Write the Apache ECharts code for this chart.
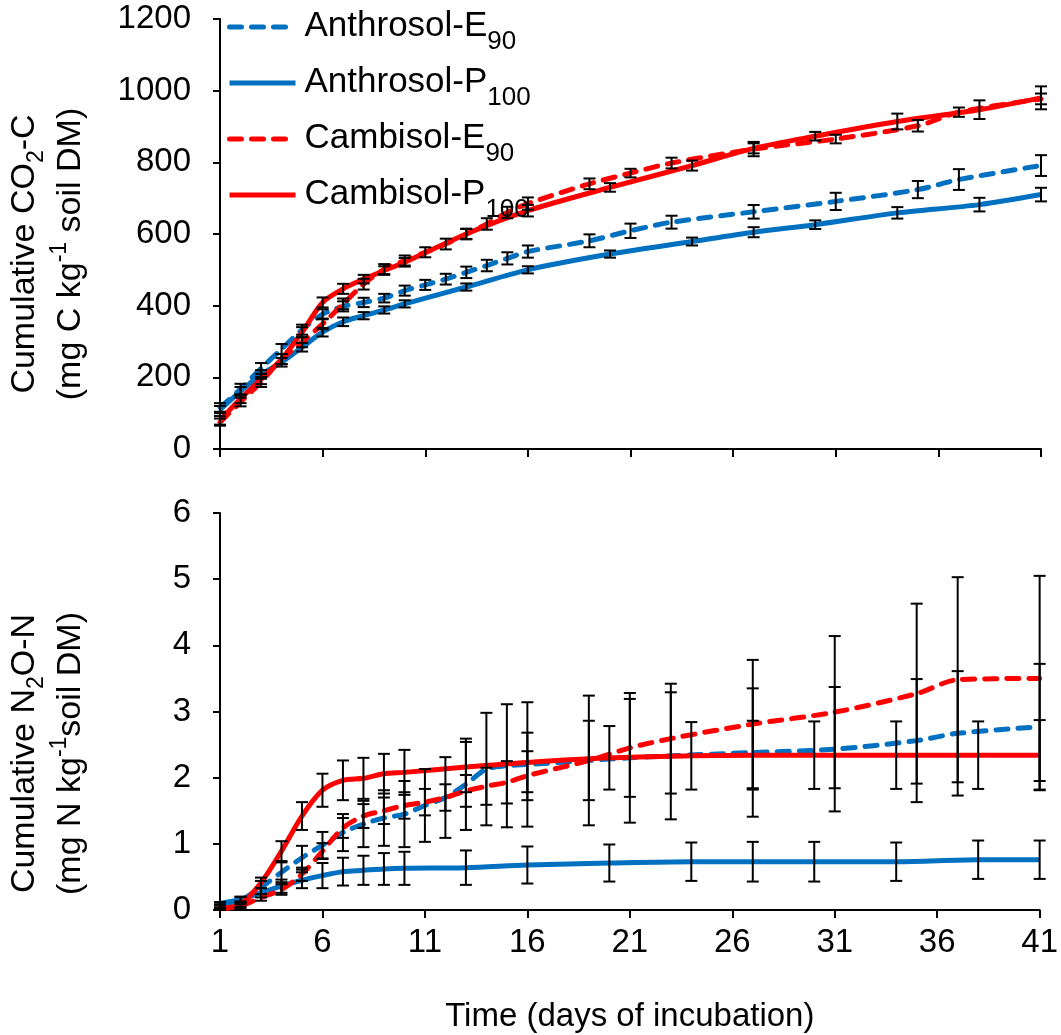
<!DOCTYPE html>
<html>
<head>
<meta charset="utf-8">
<script src="https://cdn.jsdelivr.net/npm/echarts@6/dist/echarts.min.js"></script>
<style>
  html, body { margin: 0; padding: 0; background: #fff; }
  #chart { width: 1061px; height: 1035px; }
</style>
</head>
<body>
<div id="chart"></div>
<script>
// Sampling days (E90 treatments were sampled more often than P100 treatments)
const daysE90  = [1, 2, 3, 4, 5, 6, 7, 8, 9, 10, 11, 12, 13, 14, 15, 16, 19, 21, 23, 27, 31, 35, 37, 41];
const daysP100 = [1, 2, 3, 4, 5, 6, 7, 8, 9, 10, 13, 16, 20, 24, 27, 30, 34, 38, 41];

// Cumulative CO2-C (mg C kg-1 soil DM) and standard errors
const anthE90Co2     = [116, 167, 225, 279, 333, 376, 398, 409, 421, 442, 458, 474, 493, 512, 532, 551, 581, 609, 633, 662, 691, 724, 752, 791];
const anthE90Co2Err  = [12, 15, 15, 14, 14, 14, 14, 13, 12, 14, 14, 15, 16, 16, 17, 17, 18, 20, 18, 19, 24, 24, 29, 29];
const anthP100Co2    = [110, 161, 208, 242, 284, 326, 355, 372, 388, 405, 452, 500, 544, 579, 605, 626, 659, 682, 710];
const anthP100Co2Err = [10, 12, 12, 12, 12, 12, 12, 10, 10, 10, 10, 10, 10, 11, 14, 12, 16, 19, 19];
const cambE90Co2     = [75, 131, 187, 251, 298, 349, 405, 460, 502, 526, 549, 572, 600, 628, 660, 685, 740, 770, 798, 837, 865, 902, 940, 977];
const cambE90Co2Err  = [10, 12, 14, 14, 14, 15, 15, 15, 14, 14, 14, 15, 15, 16, 16, 17, 15, 12, 15, 20, 12, 16, 13, 15];
const cambP100Co2    = [80, 140, 195, 251, 326, 409, 447, 474, 498, 521, 600, 665, 730, 791, 839, 873, 914, 947, 980];
const cambP100Co2Err = [12, 12, 14, 14, 14, 14, 14, 12, 12, 12, 14, 16, 12, 14, 14, 12, 22, 26, 32];

// Cumulative N2O-N (mg N kg-1 soil DM) and standard errors
const anthE90N2o     = [0.09, 0.15, 0.34, 0.57, 0.79, 0.98, 1.17, 1.30, 1.39, 1.45, 1.58, 1.70, 1.90, 2.13, 2.18, 2.20, 2.26, 2.30, 2.33, 2.38, 2.43, 2.56, 2.67, 2.77];
const anthE90N2oErr  = [0.02, 0.05, 0.10, 0.15, 0.18, 0.20, 0.28, 0.35, 0.42, 0.50, 0.55, 0.61, 0.69, 0.85, 0.93, 0.94, 0.98, 0.98, 0.96, 0.97, 0.94, 0.93, 0.94, 0.95];
const anthP100N2o    = [0.10, 0.16, 0.26, 0.36, 0.45, 0.52, 0.58, 0.60, 0.62, 0.63, 0.64, 0.68, 0.71, 0.73, 0.73, 0.73, 0.73, 0.76, 0.76];
const anthP100N2oErr = [0.02, 0.04, 0.07, 0.10, 0.12, 0.19, 0.21, 0.22, 0.24, 0.25, 0.26, 0.28, 0.28, 0.29, 0.30, 0.30, 0.29, 0.29, 0.29];
const cambE90N2o     = [0.02, 0.06, 0.19, 0.31, 0.54, 0.89, 1.24, 1.42, 1.50, 1.58, 1.63, 1.70, 1.80, 1.87, 1.93, 2.03, 2.26, 2.45, 2.59, 2.81, 2.99, 3.27, 3.48, 3.50];
const cambE90N2oErr  = [0.01, 0.03, 0.05, 0.08, 0.10, 0.12, 0.15, 0.18, 0.20, 0.20, 0.20, 0.20, 0.24, 0.28, 0.32, 0.37, 0.60, 0.74, 0.83, 0.97, 1.15, 1.36, 1.55, 1.55];
const cambP100N2o    = [0.02, 0.09, 0.41, 0.89, 1.42, 1.81, 1.96, 1.99, 2.06, 2.08, 2.16, 2.23, 2.30, 2.33, 2.34, 2.34, 2.34, 2.34, 2.34];
const cambP100N2oErr = [0.02, 0.04, 0.08, 0.15, 0.21, 0.25, 0.30, 0.31, 0.30, 0.34, 0.38, 0.45, 0.48, 0.51, 0.52, 0.51, 0.51, 0.51, 0.53];

// Axis ticks
const xTicks = { min: 1, max: 41, interval: 5 };
const co2Ticks = { min: 0, max: 1200, interval: 200 };
const n2oTicks = { min: 0, max: 6, interval: 1 };

const seriesNames = ['Anthrosol-E90', 'Anthrosol-P100', 'Cambisol-E90', 'Cambisol-P100'];
const legendLabels = {
  'Anthrosol-E90': '{m|Anthrosol-E}{s|90}',
  'Anthrosol-P100': '{m|Anthrosol-P}{s|100}',
  'Cambisol-E90': '{m|Cambisol-E}{s|90}',
  'Cambisol-P100': '{m|Cambisol-P}{s|100}'
};

const FONT = 'Liberation Sans';
const BLUE = '#0070C0';
const RED = '#FF0000';

function pairs(days, vals) {
  return days.map((d, i) => [d, vals[i]]);
}

function lineSeries(name, g, days, vals, color, dashed) {
  return {
    name, type: 'line', xAxisIndex: g, yAxisIndex: g,
    data: pairs(days, vals),
    symbol: 'none', smooth: 0.3, z: 3,
    lineStyle: { color, width: 5, type: dashed ? [12, 10] : 'solid', cap: dashed ? 'round' : 'butt' },
    itemStyle: { color }
  };
}

function errorSeries(name, g, days, vals, errs) {
  return {
    name, type: 'custom', xAxisIndex: g, yAxisIndex: g, z: 6, silent: true,
    data: days.map((d, i) => [d, vals[i] - errs[i], vals[i] + errs[i]]),
    encode: { x: 0, y: [1, 2] },
    renderItem(params, api) {
      const x = api.value(0);
      const lo = api.coord([x, api.value(1)]);
      const hi = api.coord([x, api.value(2)]);
      const w = 6;
      const st = { stroke: '#000', lineWidth: 2 };
      return {
        type: 'group',
        children: [
          { type: 'line', shape: { x1: lo[0], y1: lo[1], x2: hi[0], y2: hi[1] }, style: st },
          { type: 'line', shape: { x1: lo[0] - w, y1: lo[1], x2: lo[0] + w, y2: lo[1] }, style: st },
          { type: 'line', shape: { x1: hi[0] - w, y1: hi[1], x2: hi[0] + w, y2: hi[1] }, style: st }
        ]
      };
    }
  };
}

const axisLineStyle = { color: '#000', width: 2 };
const labelStyle = { fontFamily: FONT, fontSize: 33, color: '#000' };

const yNameRich = {
  t: { fontFamily: FONT, fontSize: 34, color: '#000', lineHeight: 46, verticalAlign: 'middle' },
  sb: { fontFamily: FONT, fontSize: 23, color: '#000', lineHeight: 20, verticalAlign: 'bottom' },
  sp: { fontFamily: FONT, fontSize: 23, color: '#000', lineHeight: 20, verticalAlign: 'top' }
};

function xAxis(g, showLabels) {
  const ax = {
    gridIndex: g, type: 'value', ...xTicks,
    axisLine: { show: true, lineStyle: axisLineStyle },
    axisTick: { show: true, length: 8, lineStyle: axisLineStyle },
    axisLabel: { show: showLabels, margin: 16, ...labelStyle },
    splitLine: { show: false }
  };
  if (showLabels) {
    ax.name = 'Time (days of incubation)';
    ax.nameLocation = 'middle';
    ax.nameGap = 90;
    ax.nameTextStyle = { fontFamily: FONT, fontSize: 33, color: '#000' };
  }
  return ax;
}

// shiftDown moves the rotated title along the axis towards its lower end
function yAxis(g, ticks, name, shiftDown) {
  return {
    gridIndex: g, type: 'value', ...ticks,
    axisLine: { show: true, lineStyle: axisLineStyle },
    axisTick: { show: true, length: 7, lineStyle: axisLineStyle },
    axisLabel: { margin: 29, formatter: (v) => String(v), ...labelStyle },
    splitLine: { show: false },
    name, nameLocation: 'middle', nameRotate: 90, nameGap: 126,
    nameTextStyle: { rich: yNameRich, align: 'center', padding: [0, shiftDown * 2, 0, 0] }
  };
}

const chart = echarts.init(document.getElementById('chart'), null, { renderer: 'canvas' });

chart.setOption({
  animation: false,
  backgroundColor: '#fff',
  grid: [
    { left: 217, top: 19, width: 824, height: 430 },
    { left: 217, top: 513, width: 824, height: 397 }
  ],
  legend: {
    data: seriesNames,
    orient: 'vertical',
    left: 222, top: 4,
    itemWidth: 66, itemHeight: 14, itemGap: 10,
    itemStyle: { opacity: 0 },
    lineStyle: { width: 5 },
    formatter: (n) => legendLabels[n],
    textStyle: {
      padding: [0, 0, 0, 4],
      rich: {
        m: { fontFamily: FONT, fontSize: 35, color: '#000', lineHeight: 36, verticalAlign: 'top' },
        s: { fontFamily: FONT, fontSize: 26, color: '#000', lineHeight: 24, padding: [20, 0, 0, 0], verticalAlign: 'top' }
      }
    }
  },
  xAxis: [xAxis(0, false), xAxis(1, true)],
  yAxis: [
    yAxis(0, co2Ticks, '{t|Cumulative CO}{sb|2}{t|-C}\n{t|(mg C kg}{sp|-1}{t| soil DM)}', 20),
    yAxis(1, n2oTicks, '{t|Cumulative N}{sb|2}{t|O-N}\n{t|(mg N kg}{sp|-1}{t|soil DM)}', 42)
  ],
  series: [
    lineSeries(seriesNames[0], 0, daysE90, anthE90Co2, BLUE, true),
    lineSeries(seriesNames[1], 0, daysP100, anthP100Co2, BLUE, false),
    lineSeries(seriesNames[2], 0, daysE90, cambE90Co2, RED, true),
    lineSeries(seriesNames[3], 0, daysP100, cambP100Co2, RED, false),
    errorSeries(seriesNames[0], 0, daysE90, anthE90Co2, anthE90Co2Err),
    errorSeries(seriesNames[1], 0, daysP100, anthP100Co2, anthP100Co2Err),
    errorSeries(seriesNames[2], 0, daysE90, cambE90Co2, cambE90Co2Err),
    errorSeries(seriesNames[3], 0, daysP100, cambP100Co2, cambP100Co2Err),
    lineSeries(seriesNames[0], 1, daysE90, anthE90N2o, BLUE, true),
    lineSeries(seriesNames[1], 1, daysP100, anthP100N2o, BLUE, false),
    lineSeries(seriesNames[2], 1, daysE90, cambE90N2o, RED, true),
    lineSeries(seriesNames[3], 1, daysP100, cambP100N2o, RED, false),
    errorSeries(seriesNames[0], 1, daysE90, anthE90N2o, anthE90N2oErr),
    errorSeries(seriesNames[1], 1, daysP100, anthP100N2o, anthP100N2oErr),
    errorSeries(seriesNames[2], 1, daysE90, cambE90N2o, cambE90N2oErr),
    errorSeries(seriesNames[3], 1, daysP100, cambP100N2o, cambP100N2oErr)
  ]
});
</script>
</body>
</html>
